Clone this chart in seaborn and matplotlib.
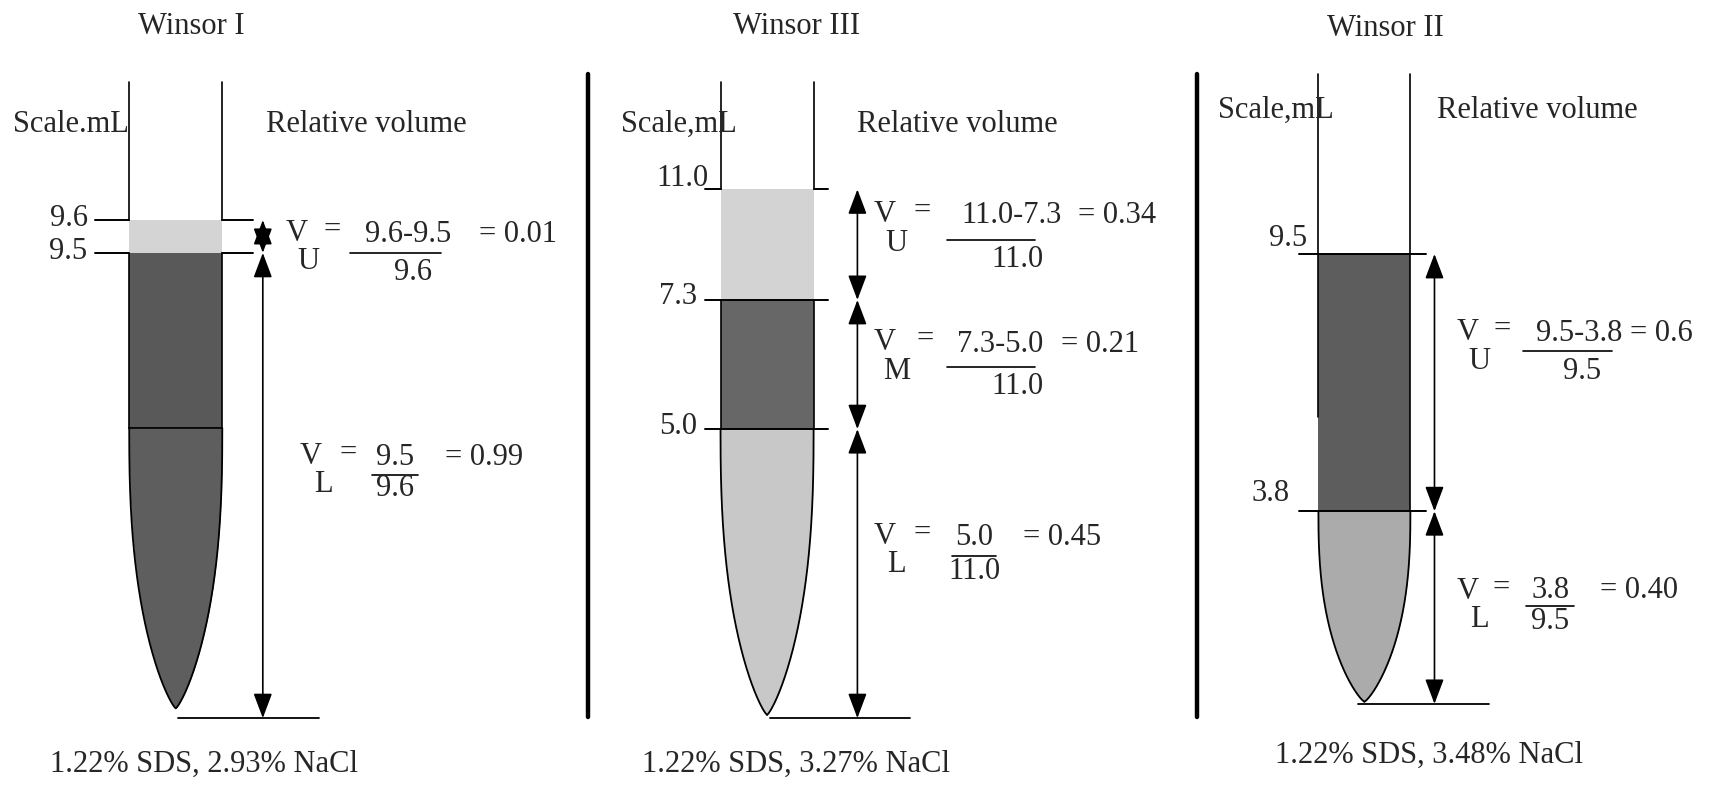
import numpy as np
import matplotlib.pyplot as plt
import seaborn as sns

sns.set_theme(style="white")
plt.rcParams["font.family"] = ["Liberation Serif", "DejaVu Serif"]

# ---- values ----
titles = ["Winsor I", "Winsor III", "Winsor II"]
sds = ["1.22", "1.22", "1.22"]
nacl = ["2.93", "3.27", "3.48"]
scale_labels = ["Scale.mL", "Scale,mL", "Scale,mL"]

# scale marks (mL) on each tube, top to bottom
marks_w1 = ["9.6", "9.5"]
marks_w3 = ["11.0", "7.3", "5.0"]
marks_w2 = ["9.5", "3.8"]

# relative volume of each phase: V_phase = num / den = value
phase_w1 = ["U", "L"]
num_w1 = ["9.6-9.5", "9.5"]
den_w1 = ["9.6", "9.6"]
rv_w1 = ["0.01", "0.99"]

phase_w3 = ["U", "M", "L"]
num_w3 = ["11.0-7.3", "7.3-5.0", "5.0"]
den_w3 = ["11.0", "11.0", "11.0"]
rv_w3 = ["0.34", "0.21", "0.45"]

phase_w2 = ["U", "L"]
num_w2 = ["9.5-3.8", "3.8"]
den_w2 = ["9.5", "9.5"]
rv_w2 = ["0.6", "0.40"]

# ---- drawing layout (pixel frame of a 1568 x 718 page) ----
W, H = 1568, 718
FS = 22

panels = [
    dict(title_xy=(175, 24), scale_xy=(12, 114), rel_xy=(243, 114), cap_xy=(186, 698),
         cx=160.5, hw=42.5, top=75, neck=391, tip=647,
         walls=[(75, 201), (231, 391)],
         layers=[(201, 231, "#d4d4d4"), (231, 391, "#595959"), (391, 647, "#5e5e5e")],
         inner=[391],
         ticks=[(201, 87, 118), (201, 203, 231), (231, 87, 118), (231, 203, 231)],
         mark_xy=[(80, 200), (80, 230)],
         arrow_x=240, stops=[201, 231, 656], base=(656, 163, 291),
         marks=marks_w1, phases=phase_w1, nums=num_w1, dens=den_w1, vals=rv_w1,
         # vx, vy, eqx, numx, numy, bar x0, bar x1, bar y, denx, deny, valx
         eqs=[(271, 213, 303, 373, 214, 320, 403, 231, 377, 249, 437),
              (284, 417, 318, 361, 418, 340, 382, 434, 361, 446, 406)]),
    dict(title_xy=(727, 24), scale_xy=(567, 114), rel_xy=(783, 114), cap_xy=(727, 698),
         cx=700.5, hw=42.5, top=75, neck=392, tip=653,
         walls=[(75, 173), (274, 392)],
         layers=[(173, 274, "#d3d3d3"), (274, 392, "#676767"), (392, 653, "#c8c8c8")],
         inner=[],
         ticks=[(173, 644, 658), (173, 743, 756), (274, 644, 756), (392, 644, 756)],
         mark_xy=[(647, 163), (637, 271), (637, 390)],
         arrow_x=783, stops=[173, 274, 392, 656], base=(656, 703, 831),
         marks=marks_w3, phases=phase_w3, nums=num_w3, dens=den_w3, vals=rv_w3,
         eqs=[(808, 196, 842, 924, 197, 865, 945, 219, 929, 237, 984),
              (808, 313, 845, 913, 315, 865, 945, 335, 929, 353, 969),
              (808, 490, 842, 890, 491, 869, 910, 508, 890, 522, 934)]),
    dict(title_xy=(1265, 26), scale_xy=(1112, 101), rel_xy=(1312, 101), cap_xy=(1305, 690),
         cx=1246, hw=42, top=68, neck=467, tip=641,
         walls=[(68, 381)], right_walls=[(68, 467)],
         layers=[(232, 467, "#5d5d5d"), (467, 641, "#ababab")],
         inner=[],
         ticks=[(232, 1186, 1302), (467, 1186, 1302)],
         mark_xy=[(1194, 218), (1178, 451)],
         arrow_x=1310, stops=[232, 467, 643], base=(643, 1240, 1360),
         marks=marks_w2, phases=phase_w2, nums=num_w2, dens=den_w2, vals=rv_w2,
         eqs=[(1340, 304, 1372, 1442, 305, 1391, 1472, 321, 1445, 339, 1489),
              (1340, 540, 1371, 1416, 539, 1394, 1437, 554, 1416, 568, 1461)]),
]


def half_width(y, p):
    t = np.clip((y - p["neck"]) / (p["tip"] - p["neck"]), 0, 1)
    return p["hw"] * (1 - t ** 2.5) ** 0.8


fig = plt.figure(figsize=(17.17, 7.86), dpi=100)
ax = fig.add_axes([0, 0, 1, 1])
ax.set_xlim(0, W)
ax.set_ylim(H, 0)
ax.axis("off")

for i, p in enumerate(panels):
    cx = p["cx"]
    # liquid layers
    for y0, y1, col in p["layers"]:
        yy = np.linspace(y0, y1, 300)
        hw = half_width(yy, p)
        ax.fill_betweenx(yy, cx - hw, cx + hw, color=col, lw=0)
    # straight glass walls
    for y0, y1 in p["walls"]:
        ax.plot([cx - p["hw"]] * 2, [y0, y1], color="black", lw=1.2)
    for y0, y1 in p.get("right_walls", p["walls"]):
        ax.plot([cx + p["hw"]] * 2, [y0, y1], color="black", lw=1.2)
    # rounded bottom
    yy = np.linspace(p["neck"], p["tip"], 300)
    hw = half_width(yy, p)
    ax.plot(cx - hw, yy, color="black", lw=1.3)
    ax.plot(cx + hw, yy, color="black", lw=1.3)
    for y in p["inner"]:
        ax.plot([cx - p["hw"], cx + p["hw"]], [y, y], color="black", lw=1.3)

    # scale marks
    for y, x0, x1 in p["ticks"]:
        ax.plot([x0, x1], [y, y], color="black", lw=1.4)
    for lab, (x, y) in zip(p["marks"], p["mark_xy"]):
        ax.text(x, y, lab, ha="right", va="center", fontsize=FS)

    # dimension arrows
    s = p["stops"]
    for y0, y1 in zip(s[:-1], s[1:]):
        ax.annotate("", xy=(p["arrow_x"], y1), xytext=(p["arrow_x"], y0),
                    arrowprops=dict(arrowstyle="<|-|>,head_length=0.85,head_width=0.32",
                                    color="black", lw=1.2, shrinkA=0, shrinkB=0,
                                    mutation_scale=18))
    by, bx0, bx1 = p["base"]
    ax.plot([bx0, bx1], [by, by], color="black", lw=1.3)

    # relative volume equations
    for ph, nm, dn, val, e in zip(p["phases"], p["nums"], p["dens"], p["vals"], p["eqs"]):
        vx, vy, eqx, numx, numy, b0, b1, bar_y, denx, deny, valx = e
        ax.text(vx, vy, "V", ha="center", va="center", fontsize=FS)
        ax.text(vx + 11, vy + 26, ph, ha="center", va="center", fontsize=FS)
        ax.text(eqx, vy - 3, "=", ha="center", va="center", fontsize=FS)
        ax.text(numx, numy, nm, ha="center", va="center", fontsize=FS)
        ax.plot([b0, b1], [bar_y, bar_y], color="black", lw=1.2)
        ax.text(denx, deny, dn, ha="center", va="center", fontsize=FS)
        ax.text(valx, numy, "= " + val, ha="left", va="center", fontsize=FS)

    # headings and captions
    ax.text(*p["title_xy"], titles[i], ha="center", va="center", fontsize=FS)
    ax.text(*p["scale_xy"], scale_labels[i], ha="left", va="center", fontsize=FS)
    ax.text(*p["rel_xy"], "Relative volume", ha="left", va="center", fontsize=FS)
    ax.text(*p["cap_xy"], f"{sds[i]}% SDS, {nacl[i]}% NaCl",
            ha="center", va="center", fontsize=FS)

# panel separators
for x in [537, 1093]:
    ax.plot([x, x], [68, 655], color="black", lw=3.2)

fig.savefig("out.png", dpi=100)
